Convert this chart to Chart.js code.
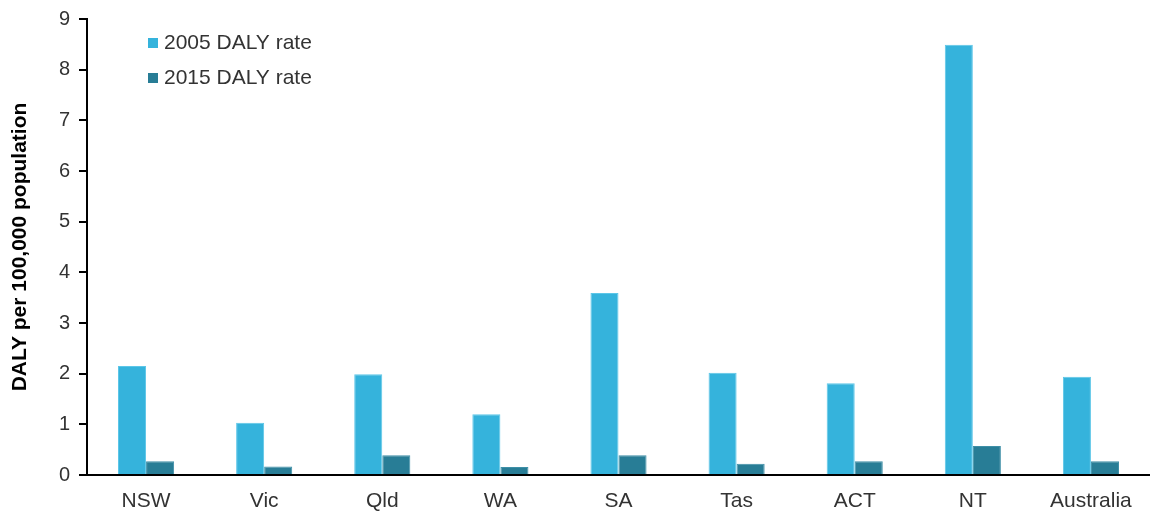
<!DOCTYPE html>
<html>
<head>
<meta charset="utf-8">
<script src="https://cdn.jsdelivr.net/npm/chart.js@4/dist/chart.umd.min.js"></script>
<style>
  html, body { margin: 0; padding: 0; background: #fff; }
</style>
</head>
<body>
<canvas id="dalyChart" width="1150" height="513"></canvas>
<script>
const regions = ['NSW', 'Vic', 'Qld', 'WA', 'SA', 'Tas', 'ACT', 'NT', 'Australia'];
const rate2005 = [2.15, 1.03, 1.99, 1.20, 3.59, 2.02, 1.81, 8.49, 1.94];
const rate2015 = [0.27, 0.17, 0.39, 0.16, 0.39, 0.22, 0.27, 0.57, 0.27];
const yTicks = [0, 1, 2, 3, 4, 5, 6, 7, 8, 9];

const textColor = '#333333';
const fontName = '"Liberation Sans", Arial, sans-serif';

// legend drawn inside the plot, top left
const insideLegend = {
  id: 'insideLegend',
  afterDraw(chart) {
    const ctx = chart.ctx;
    const x0 = chart.chartArea.left + 61;
    const y0 = chart.chartArea.top + 24;
    ctx.save();
    ctx.font = '21px ' + fontName;
    ctx.textBaseline = 'middle';
    chart.data.datasets.forEach((ds, i) => {
      const y = y0 + i * 35;
      ctx.fillStyle = ds.backgroundColor;
      ctx.fillRect(x0, y - 5, 10, 10);
      ctx.fillStyle = textColor;
      ctx.fillText(ds.label, x0 + 16, y);
    });
    ctx.restore();
  }
};

const dalyChart = new Chart(document.getElementById('dalyChart'), {
  type: 'bar',
  data: {
    labels: regions,
    datasets: [{
      label: '2005 DALY rate',
      backgroundColor: '#35B3DC',
      borderColor: '#5CC6E8',
      borderWidth: 1,
      data: rate2005
    }, {
      label: '2015 DALY rate',
      backgroundColor: '#287D96',
      borderColor: '#3E8FA7',
      borderWidth: 1,
      data: rate2015
    }]
  },
  options: {
    responsive: false,
    animation: false,
    layout: { padding: { top: 19, right: 0, left: 0, bottom: 0 } },
    datasets: {
      bar: { categoryPercentage: 0.475, barPercentage: 1 }
    },
    plugins: {
      legend: { display: false },
      tooltip: { enabled: false }
    },
    scales: {
      x: {
        grid: { display: false },
        border: { display: true, color: '#000', width: 2 },
        ticks: { color: textColor, font: { family: fontName, size: 21 }, padding: 6, maxRotation: 0, autoSkip: false },
        afterFit(scale) { scale.height = 38; }
      },
      y: {
        min: yTicks[0],
        max: yTicks[yTicks.length - 1],
        afterBuildTicks(scale) { scale.ticks = yTicks.map(v => ({ value: v })); },
        grid: { drawOnChartArea: false, color: '#000', tickLength: 8, lineWidth: 2 },
        border: { display: true, color: '#000', width: 2 },
        ticks: { color: textColor, font: { family: fontName, size: 20 }, padding: 9, autoSkip: false },
        title: {
          display: true,
          text: 'DALY per 100,000 population',
          color: '#000',
          font: { family: fontName, size: 21, weight: 'bold' },
          padding: { top: 8, bottom: 0 }
        },
        afterFit(scale) {
          scale.width = 87;
          scale.paddingTop = 0;
          scale.paddingBottom = 0;
        }
      }
    }
  },
  plugins: [insideLegend]
});
</script>
</body>
</html>
